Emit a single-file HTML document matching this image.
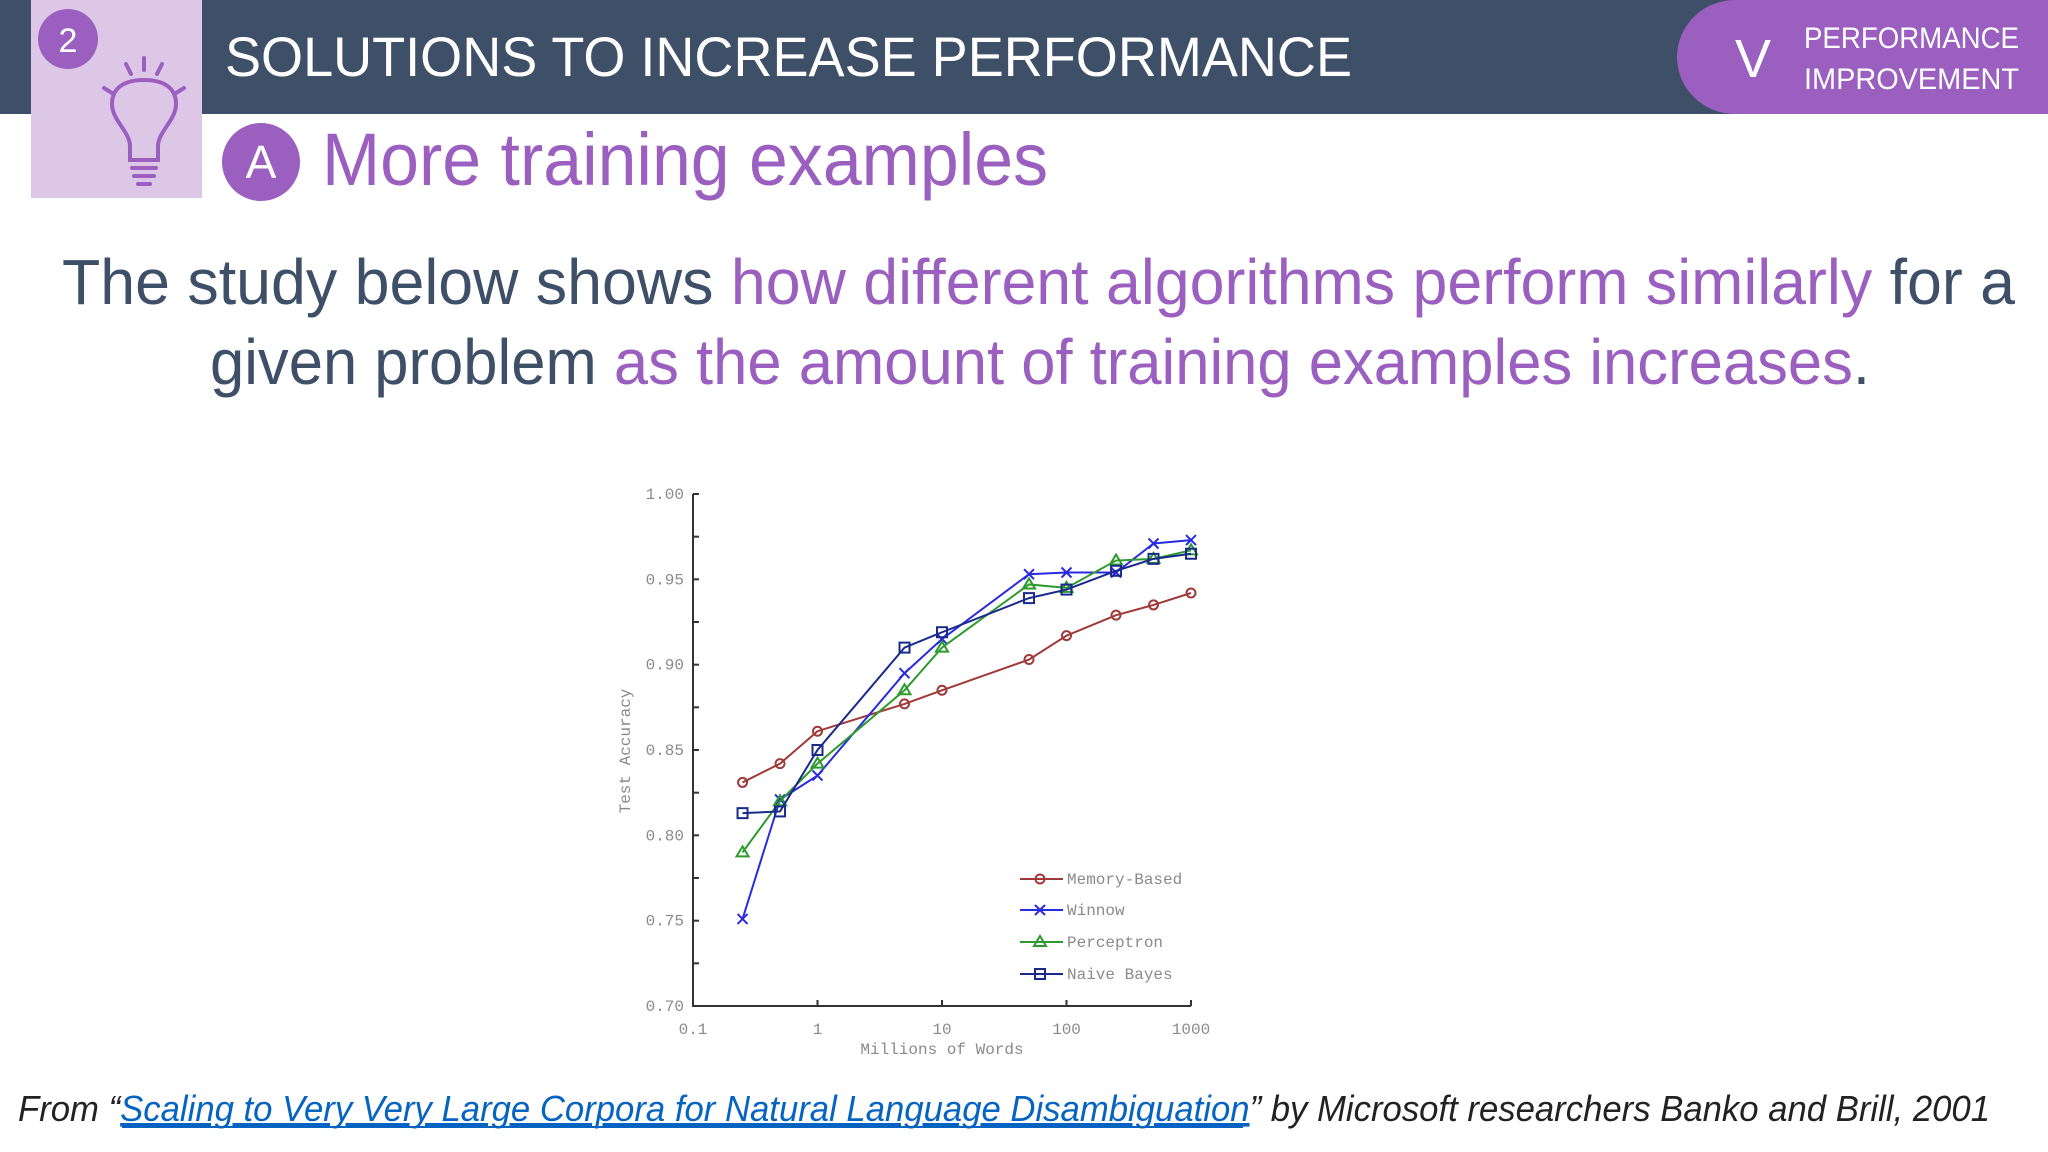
<!DOCTYPE html>
<html><head><meta charset="utf-8"><style>
html,body{margin:0;padding:0;background:#fff;}
svg{display:block;}
text{font-family:"Liberation Sans",sans-serif;}
.mono{font-family:"Liberation Mono",monospace;fill:#8a8a8a;font-size:16px;}
</style></head><body>
<svg id="slide" width="2048" height="1152" viewBox="0 0 2048 1152">
  <rect x="0" y="0" width="2048" height="114" fill="#3d5068"/>
  <rect x="31" y="0" width="171" height="198" fill="#dcc8e6"/>
  <circle cx="68" cy="39" r="30" fill="#9b5fc0"/>
  <text x="68" y="52" font-size="34" fill="#fff" text-anchor="middle">2</text>
  <g fill="none" stroke="#9b5fc0" stroke-width="4" stroke-linecap="round" transform="translate(0 14)">
    <path d="M130 146 L130 132 C130 118 112 106 112 90 C112 74 124 66 144 66 C164 66 176 74 176 90 C176 106 158 118 158 132 L158 146 Z"/>
    <line x1="132" y1="154" x2="156" y2="154"/><line x1="134" y1="162" x2="154" y2="162"/><line x1="138" y1="170" x2="150" y2="170"/>
    <line x1="144" y1="44" x2="144" y2="56"/><line x1="126" y1="50" x2="131" y2="60"/><line x1="162" y1="50" x2="157" y2="60"/>
    <line x1="104" y1="74" x2="112" y2="79"/><line x1="184" y1="74" x2="176" y2="79"/>
  </g>
  <text x="225" y="76" font-size="56" fill="#fff" textLength="1127" lengthAdjust="spacingAndGlyphs">SOLUTIONS TO INCREASE PERFORMANCE</text>
  <path d="M1735 0 H2048 V114 H1735 A58 57 0 0 1 1735 0 Z" fill="#9b5fc0"/>
  <text x="1735" y="77" font-size="54" fill="#fff">V</text>
  <text x="1804" y="48" font-size="30" fill="#fff" textLength="215" lengthAdjust="spacingAndGlyphs">PERFORMANCE</text>
  <text x="1804" y="89" font-size="30" fill="#fff" textLength="215" lengthAdjust="spacingAndGlyphs">IMPROVEMENT</text>
  <circle cx="261" cy="162" r="39" fill="#9b5fc0"/>
  <text x="261" y="178" font-size="46" fill="#fff" text-anchor="middle">A</text>
  <text x="322" y="185" font-size="74" fill="#9b5fc0" textLength="726" lengthAdjust="spacingAndGlyphs">More training examples</text>
  <text x="62" y="304" font-size="64" fill="#3d5068" textLength="1953" lengthAdjust="spacingAndGlyphs">The study below shows <tspan fill="#9b5fc0">how different algorithms perform similarly</tspan> for a</text>
  <text x="210" y="384" font-size="64" fill="#3d5068" textLength="1660" lengthAdjust="spacingAndGlyphs">given problem <tspan fill="#9b5fc0">as the amount of training examples increases</tspan>.</text>
  <g id="chart"></g>
  <text x="18" y="1121" font-size="36" font-style="italic" fill="#222" textLength="1972" lengthAdjust="spacingAndGlyphs">From “<tspan fill="#0563c1" text-decoration="underline">Scaling to Very Very Large Corpora for Natural Language Disambiguation</tspan>” by Microsoft researchers Banko and Brill, 2001</text>
  <line x1="122" y1="1127" x2="1243" y2="1127" stroke="#0563c1" stroke-width="2"/>
</svg>
<script>
const xValues = [0.25, 0.5, 1, 5, 10, 50, 100, 250, 500, 1000];
const memoryBased = [0.831, 0.842, 0.861, 0.877, 0.885, 0.903, 0.917, 0.929, 0.935, 0.942];
const winnow = [0.751, 0.821, 0.835, 0.895, 0.915, 0.953, 0.954, 0.954, 0.971, 0.973];
const perceptron = [0.790, 0.820, 0.842, 0.885, 0.910, 0.947, 0.945, 0.961, 0.962, 0.967];
const naiveBayes = [0.813, 0.814, 0.850, 0.910, 0.919, 0.939, 0.944, 0.955, 0.962, 0.965];
const seriesNames = ["Memory-Based", "Winnow", "Perceptron", "Naive Bayes"];
const yTickLabels = ["0.70", "0.75", "0.80", "0.85", "0.90", "0.95", "1.00"];
const xTickLabels = ["0.1", "1", "10", "100", "1000"];

const NS = "http://www.w3.org/2000/svg";
const g = document.getElementById("chart");
const X0 = 693, X1 = 1191, Y0 = 1006, Y1 = 494;
function xs(v){ return X0 + (Math.log10(v) + 1) / 4 * (X1 - X0); }
function ys(v){ return Y0 - (v - 0.70) / 0.30 * (Y0 - Y1); }
function mk(tag, attrs, parent){ const e = document.createElementNS(NS, tag); for (const k in attrs) e.setAttribute(k, attrs[k]); (parent || g).appendChild(e); return e; }

let ax = mk("path", {d:`M${X0} ${Y1} V${Y0} H${X1}`, fill:"none", stroke:"#333", "stroke-width":2});


for (let i = 0; i <= 12; i++) {
  const v = 0.70 + i * 0.025;
  mk("line", {x1:X0, x2:X0 + 6, y1:ys(v), y2:ys(v), stroke:"#333", "stroke-width":2});
}
yTickLabels.forEach(l => {
  const t = mk("text", {x:X0 - 9, y:ys(parseFloat(l)) + 5, "text-anchor":"end", class:"mono"});
  t.textContent = l;
  
  
});
xTickLabels.forEach(l => {
  const x = xs(parseFloat(l));
  mk("line", {x1:x, x2:x, y1:Y0, y2:Y0 - 6, stroke:"#333", "stroke-width":2});
  const t = mk("text", {x:x, y:Y0 + 28, "text-anchor":"middle", class:"mono"});
  t.textContent = l;
  
  
});
let xt = mk("text", {x:942, y:Y0 + 48, "text-anchor":"middle", class:"mono"});
xt.textContent = "Millions of Words";


let yt = mk("text", {x:0, y:0, "text-anchor":"middle", class:"mono", transform:"translate(630 751) rotate(-90)"});
yt.textContent = "Test Accuracy";



const colors = ["#a03a3a", "#2a2ae0", "#2e9a2e", "#1a2a8a"];
const data = [memoryBased, winnow, perceptron, naiveBayes];
function marker(type, x, y, c, parent){
  if (type === 0) return mk("circle", {cx:x, cy:y, r:4.5, fill:"none", stroke:c, "stroke-width":2}, parent);
  if (type === 1) return mk("path", {d:`M${x-5} ${y-5} L${x+5} ${y+5} M${x-5} ${y+5} L${x+5} ${y-5}`, stroke:c, "stroke-width":2}, parent);
  if (type === 2) return mk("path", {d:`M${x} ${y-6} L${x+6} ${y+4} L${x-6} ${y+4} Z`, fill:"none", stroke:c, "stroke-width":2}, parent);
  return mk("rect", {x:x-5, y:y-5, width:10, height:10, fill:"none", stroke:c, "stroke-width":2}, parent);
}
data.forEach((s, i) => {
  const grp = mk("g", {});
  
  
  const pts = s.map((v, j) => `${xs(xValues[j])},${ys(v)}`).join(" ");
  mk("polyline", {points:pts, fill:"none", stroke:colors[i], "stroke-width":2}, grp);
  s.forEach((v, j) => marker(i, xs(xValues[j]), ys(v), colors[i], grp));
});
const legY = [879, 910, 942, 974];
seriesNames.forEach((n, i) => {
  const lg = mk("g", {});
  
  
  mk("line", {x1:1020, x2:1063, y1:legY[i], y2:legY[i], stroke:colors[i], "stroke-width":2}, lg);
  marker(i, 1040, legY[i], colors[i], lg);
  const t = mk("text", {x:1067, y:legY[i] + 5, class:"mono"}, lg);
  t.textContent = n;
});
</script>
</body></html>
